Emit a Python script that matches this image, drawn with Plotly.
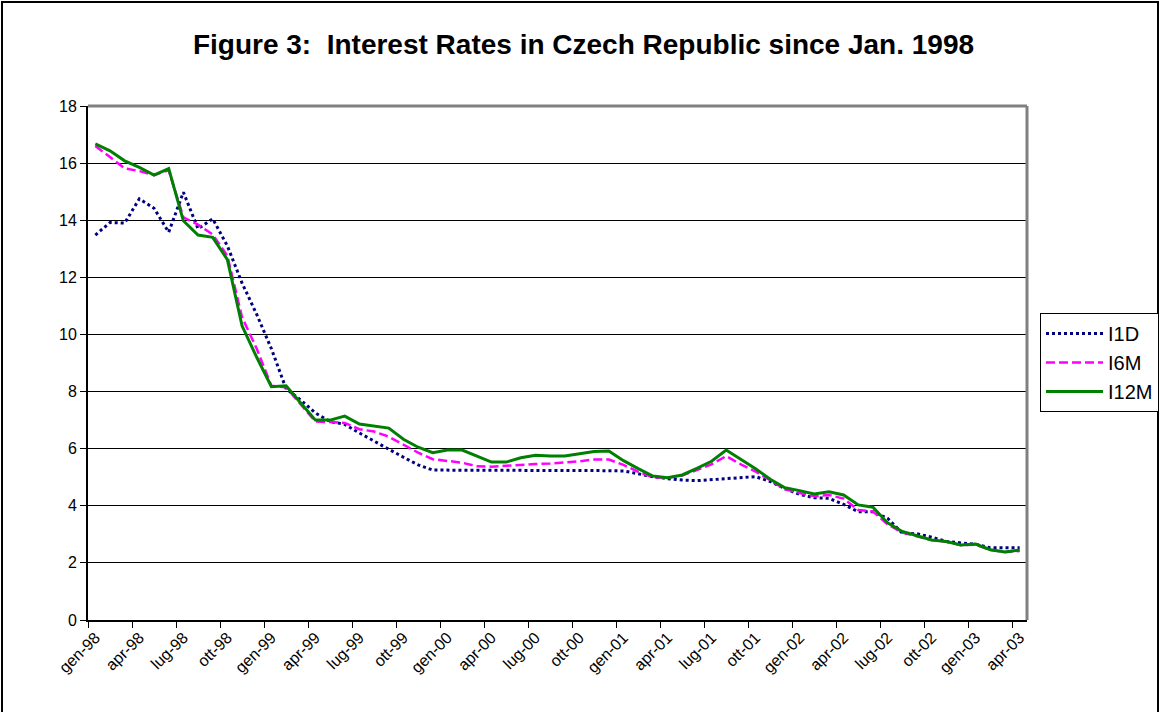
import plotly.graph_objects as go

months_it = ["gen", "feb", "mar", "apr", "mag", "giu", "lug", "ago", "set", "ott", "nov", "dic"]
years = ["98", "99", "00", "01", "02", "03"]
categories = [f"{m}-{y}" for y in years for m in months_it][:64]  # gen-98 .. apr-03

i1d = [13.48, 13.92, 13.90, 14.75, 14.42, 13.58, 14.98, 13.70, 14.05, 13.10,
       11.80, 10.70, 9.50, 8.10, 7.70, 7.25, 6.95, 6.85, 6.55, 6.25,
       5.98, 5.70, 5.43, 5.25, 5.25, 5.25, 5.25, 5.25, 5.25, 5.25,
       5.25, 5.25, 5.25, 5.25, 5.25, 5.23, 5.22, 5.12, 5.02, 4.95,
       4.90, 4.88, 4.92, 4.96, 5.00, 5.02, 4.85, 4.60, 4.40, 4.28,
       4.26, 4.05, 3.79, 3.79, 3.56, 3.04, 3.02, 2.90, 2.75, 2.69,
       2.65, 2.53, 2.52, 2.53]

i6m = [16.60, 16.20, 15.82, 15.72, 15.58, 15.75, 14.10, 13.85, 13.50, 12.75,
       10.60, 9.50, 8.20, 8.15, 7.55, 6.95, 6.93, 6.90, 6.68, 6.60,
       6.42, 6.13, 5.86, 5.63, 5.58, 5.51, 5.38, 5.37, 5.40, 5.44,
       5.46, 5.48, 5.51, 5.56, 5.62, 5.62, 5.43, 5.19, 5.00, 4.98,
       5.06, 5.25, 5.45, 5.74, 5.45, 5.20, 4.88, 4.58, 4.45, 4.33,
       4.38, 4.25, 3.85, 3.80, 3.35, 3.06, 2.93, 2.80, 2.74, 2.62,
       2.64, 2.45, 2.38, 2.42]

i12m = [16.67, 16.43, 16.08, 15.85, 15.58, 15.81, 13.98, 13.48, 13.40, 12.62,
        10.30, 9.20, 8.17, 8.20, 7.60, 7.00, 7.00, 7.14, 6.86, 6.78,
        6.72, 6.33, 6.05, 5.86, 5.95, 5.95, 5.74, 5.53, 5.53, 5.68,
        5.77, 5.74, 5.74, 5.82, 5.90, 5.92, 5.58, 5.30, 5.04, 4.98,
        5.08, 5.31, 5.56, 5.95, 5.62, 5.30, 4.93, 4.63, 4.53, 4.41,
        4.49, 4.38, 4.03, 3.95, 3.40, 3.10, 2.95, 2.80, 2.75, 2.63,
        2.66, 2.46, 2.38, 2.45]

series_names = ["I1D", "I6M", "I12M"]
title_text = "Figure 3:  Interest Rates in Czech Republic since Jan. 1998"

FONT = "Liberation Sans, Arial, sans-serif"

fig = go.Figure()
fig.add_trace(go.Scatter(x=categories, y=i1d, name=series_names[0], mode="lines",
                         line=dict(color="#000080", width=3, dash="3px,3px")))
fig.add_trace(go.Scatter(x=categories, y=i6m, name=series_names[1], mode="lines",
                         line=dict(color="#FF00FF", width=2.5, dash="9px,4px")))
fig.add_trace(go.Scatter(x=categories, y=i12m, name=series_names[2], mode="lines",
                         line=dict(color="#008000", width=3)))

L, R, T, B = 88, 1160 - 1027, 106, 712 - 620
W, H = 1160, 712
pw, ph = W - L - R, H - T - B

def px(x):
    return (x - L) / pw

def py(y):
    return (H - B - y) / ph

fig.update_layout(
    width=W, height=H,
    margin=dict(l=L, r=R, t=T, b=B, autoexpand=False),
    paper_bgcolor="white", plot_bgcolor="white",
    font=dict(family=FONT, color="black", size=16),
    title=dict(text=title_text, x=0.503, xanchor="center", xref="container",
               y=1 - 44 / H, yanchor="middle", yref="container",
               font=dict(family=FONT, size=28, color="black", weight="bold")),
    showlegend=True,
    legend=dict(x=px(1040), xanchor="left", y=py(412), yanchor="bottom",
                bgcolor="white", bordercolor="black", borderwidth=1,
                font=dict(family=FONT, size=20, color="black"),
                tracegroupgap=0, itemwidth=57),
    xaxis=dict(type="category", range=[-0.5, 63.5], dtick=3, tickson="boundaries",
               ticks="outside", ticklen=6, tickcolor="black", tickwidth=1,
               tickangle=-45, showgrid=False, showline=True, linecolor="black",
               linewidth=2, tickfont=dict(family=FONT, size=16, color="black"),
               zeroline=False, automargin=False),
    yaxis=dict(range=[0, 18], dtick=2, ticks="outside", ticklen=6,
               tickcolor="black", showgrid=True, gridcolor="black", gridwidth=1,
               showline=True, linecolor="black", linewidth=2, zeroline=False,
               automargin=False,
               tickfont=dict(family=FONT, size=16, color="black")),
)

# plot area top/right border (gray) and outer chart frame
fig.add_shape(type="line", xref="paper", yref="paper", x0=0, x1=1, y0=1, y1=1,
              line=dict(color="#808080", width=3), layer="above")
fig.add_shape(type="line", xref="paper", yref="paper", x0=1, x1=1, y0=0, y1=1,
              line=dict(color="#808080", width=3), layer="above")
fig.add_shape(type="rect", xref="paper", yref="paper",
              x0=px(2), x1=px(1158), y0=py(720), y1=py(2),
              line=dict(color="black", width=2), layer="above")

fig.write_html("out.html", config={"displayModeBar": False},
               post_script="document.body.style.margin='0';document.body.style.padding='0';")
